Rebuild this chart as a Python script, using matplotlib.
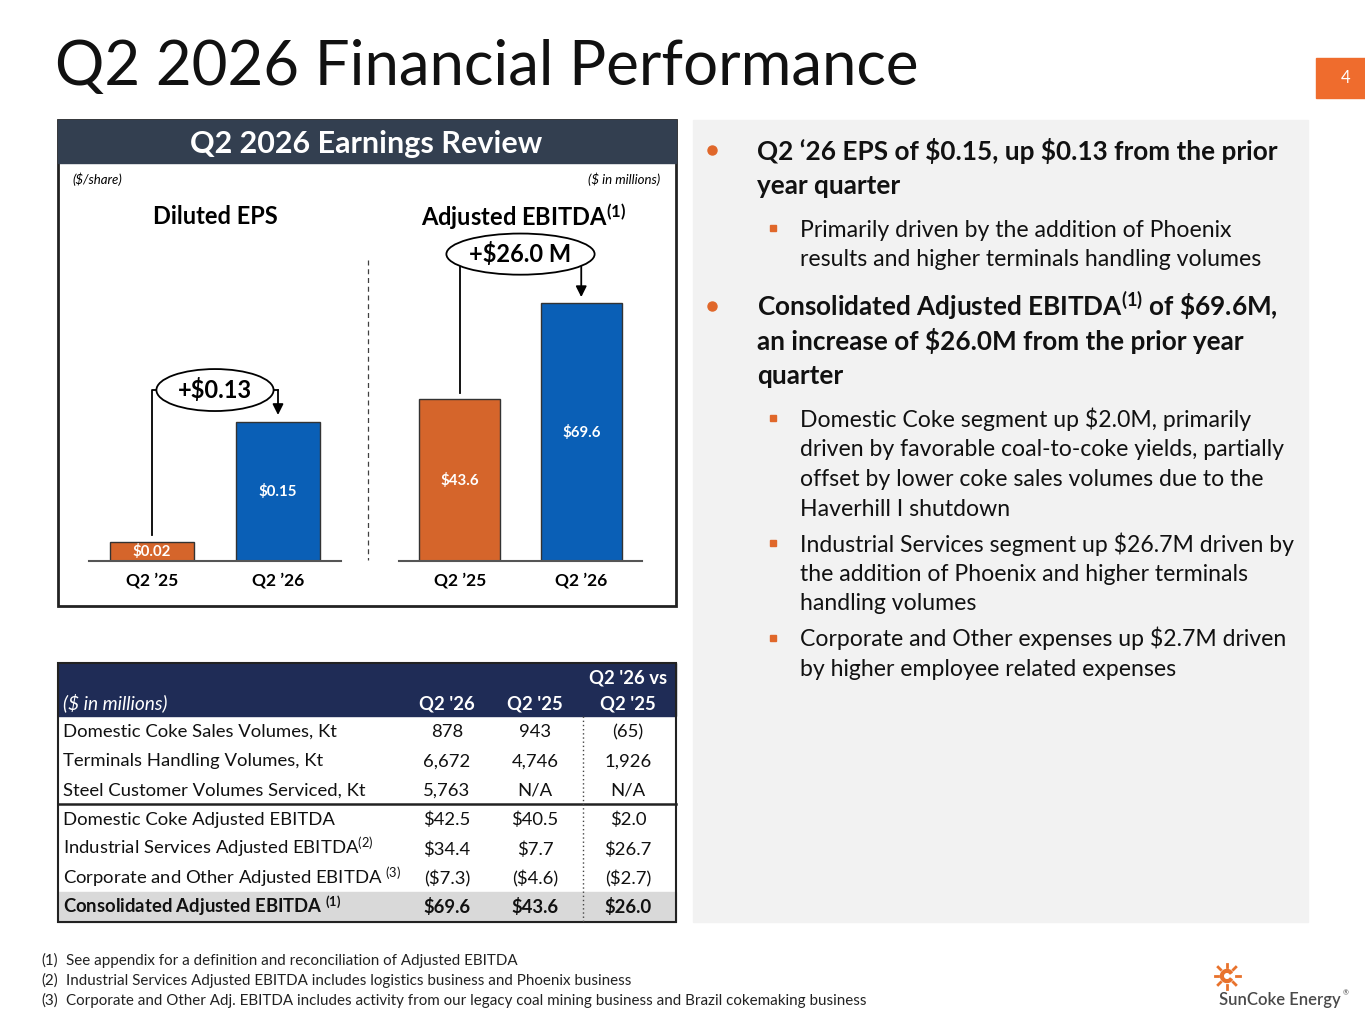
import matplotlib.pyplot as plt
from matplotlib.patches import Rectangle, Ellipse, Wedge
import numpy as np

plt.rcParams['font.family'] = ['Lato', 'DejaVu Sans']
plt.rcParams['mathtext.fontset'] = 'custom'
plt.rcParams['mathtext.rm'] = 'Lato'
plt.rcParams['mathtext.bf'] = 'Lato:bold'
plt.rcParams['mathtext.it'] = 'Lato:italic'

# Chart data
periods = ['Q2 ’25', 'Q2 ’26']
eps = [0.02, 0.15]
ebitda = [43.6, 69.6]

# Table data
table_header = ["Q2 '26", "Q2 '25"]
row_labels = ['Domestic Coke Sales Volumes, Kt',
              'Terminals Handling Volumes, Kt',
              'Steel Customer Volumes Serviced, Kt',
              'Domestic Coke Adjusted EBITDA',
              'Industrial Services Adjusted EBITDA$^{(2)}$',
              'Corporate and Other Adjusted EBITDA $^{(3)}$',
              'Consolidated Adjusted EBITDA $^{\\mathbf{(1)}}$']
q2_26 = ['878', '6,672', '5,763', '$42.5', '$34.4', '($7.3)', '$69.6']
q2_25 = ['943', '4,746', 'N/A', '$40.5', '$7.7', '($4.6)', '$43.6']
change = ['(65)', '1,926', 'N/A', '$2.0', '$26.7', '($2.7)', '$26.0']

# Commentary
bullet1 = ['Q2 ‘26 EPS of \\$0.15, up \\$0.13 from the prior', 'year quarter']
bullet1_subs = [['Primarily driven by the addition of Phoenix',
                 'results and higher terminals handling volumes']]
bullet2 = ['Consolidated Adjusted EBITDA$^{\\mathbf{(1)}}$ of \\$69.6M,',
           'an increase of \\$26.0M from the prior year', 'quarter']
bullet2_subs = [['Domestic Coke segment up \\$2.0M, primarily',
                 'driven by favorable coal-to-coke yields, partially',
                 'offset by lower coke sales volumes due to the',
                 'Haverhill I shutdown'],
                ['Industrial Services segment up \\$26.7M driven by',
                 'the addition of Phoenix and higher terminals',
                 'handling volumes'],
                ['Corporate and Other expenses up \\$2.7M driven',
                 'by higher employee related expenses']]

footnotes = ['See appendix for a definition and reconciliation of Adjusted EBITDA',
             'Industrial Services Adjusted EBITDA includes logistics business and Phoenix business',
             'Corporate and Other Adj. EBITDA includes activity from our legacy coal mining business and Brazil cokemaking business']

orange = '#D5652B'
blue = '#0A5FB6'
accent = '#E0672A'
slate = '#333F50'
navy = '#1F2C56'

W, H = 1365, 1024
fig = plt.figure(figsize=(W / 100, H / 100), dpi=100)
bg = fig.add_axes([0, 0, 1, 1])
bg.set_xlim(0, W)
bg.set_ylim(H, 0)
bg.axis('off')

# title and page number
bg.text(55, 85, 'Q2 2026 Financial Performance', fontsize=44.5, color='#111111', va='baseline')
bg.add_patch(Rectangle((1316, 58), 49, 40, color='#EF6C2D'))
bg.text(1346, 78, '4', color='white', fontsize=12, ha='center', va='center')

# left chart panel
bg.add_patch(Rectangle((58, 120), 618, 486, fc='white', ec='#222222', lw=2))
bg.add_patch(Rectangle((58, 120), 618, 43, color=slate))
bg.text(366, 153, 'Q2 2026 Earnings Review', color='white', fontsize=22, weight='bold',
        ha='center', va='baseline')
bg.text(72, 184, '($/share)', style='italic', fontsize=9.5, va='baseline')
bg.text(660, 184, '($ in millions)', style='italic', fontsize=9.5, ha='right', va='baseline')
bg.text(215, 224, 'Diluted EPS', fontsize=17, weight='bold', ha='center', va='baseline')
bg.text(524, 226, 'Adjusted EBITDA$^{\\mathbf{(1)}}$', fontsize=17, weight='bold',
        ha='center', va='baseline')
bg.plot([368, 368], [260, 560], ls=(0, (4, 3)), color='#404040', lw=0.9)


def bar_panel(left, right, values, ymax, fmt, lift, gap, ell_w, ell_h, change_text):
    ax = fig.add_axes([left / W, 1 - 561 / H, (right - left) / W, 361 / H])
    ax.bar(range(2), values, width=0.67, color=[orange, blue], edgecolor='#333333', lw=1)
    ax.set_xlim(-0.5, 1.5)
    ax.set_ylim(0, ymax)
    for s in ['left', 'top', 'right']:
        ax.spines[s].set_visible(False)
    ax.spines['bottom'].set_color('#555555')
    ax.spines['bottom'].set_linewidth(1.5)
    ax.set_yticks([])
    ax.set_xticks(range(2), periods)
    ax.tick_params(length=0, pad=8)
    for lab in ax.get_xticklabels():
        lab.set_fontweight('bold')
        lab.set_fontsize(12.5)
    ax.patch.set_alpha(0)
    for i, v in enumerate(values):
        ax.text(i, v / 2, fmt.format(v), color='white', weight='bold', fontsize=10.8,
                ha='center', va='center')
    # change bracket
    ye = values[1] + lift
    ax.plot([0, 0, 0.5], [values[0] + gap, ye, ye], color='black', lw=1.3, clip_on=False)
    ax.annotate('', xy=(1, values[1] + gap), xytext=(1, ye),
                arrowprops=dict(arrowstyle='-|>', color='black', lw=1.3, mutation_scale=16,
                                shrinkA=0, shrinkB=0))
    ax.plot([0.5, 1], [ye, ye], color='black', lw=1.3, clip_on=False)
    ax.add_patch(Ellipse((0.5, ye), ell_w, ell_h, fc='white', ec='black', lw=1.3,
                         zorder=5, clip_on=False))
    ax.text(0.5, ye, change_text, fontsize=17, weight='bold', ha='center', va='center',
            zorder=6)
    return ax


bar_panel(89, 341, eps, 0.3896, '${:.2f}', 0.0345, 0.0076, 0.93, 0.0453,
          '+${:.2f}'.format(eps[1] - eps[0]))
bar_panel(399, 642, ebitda, 97.4, '${:.1f}', 13.2, 1.6, 1.22, 11.1,
          '+${:.1f} M'.format(ebitda[1] - ebitda[0]))

# table
tx0, tx1 = 58, 676
row_top, row_h = 716, 29.4
col_x = [447, 535, 628]
fs = 13.3
bg.add_patch(Rectangle((tx0, 663), tx1 - tx0, row_top - 663, color=navy))
bg.add_patch(Rectangle((tx0, row_top + 6 * row_h), tx1 - tx0, row_h, color='#D9D9D9'))
bg.add_patch(Rectangle((tx0, 663), tx1 - tx0, row_top + 7 * row_h - 663, fc='none',
                       ec='#222222', lw=1.5))
bg.plot([tx0, tx1], [row_top + 3 * row_h] * 2, color='#222222', lw=1.8)
bg.plot([583, 583], [row_top, row_top + 7 * row_h], color='#444444', ls=(0, (1, 2)), lw=1)
bg.text(63, 709, '($ in millions)', color='white', style='italic', fontsize=13.8, va='baseline')
for x, h in zip(col_x, table_header):
    bg.text(x, 709, h, color='white', weight='bold', fontsize=fs, ha='center', va='baseline')
bg.text(col_x[2], 684, "Q2 '26 vs", color='white', weight='bold', fontsize=fs,
        ha='center', va='baseline')
bg.text(col_x[2], 709, "Q2 '25", color='white', weight='bold', fontsize=fs,
        ha='center', va='baseline')
for i, lab in enumerate(row_labels):
    yb = row_top + i * row_h + 21
    w = 'bold' if i == len(row_labels) - 1 else 'normal'
    bg.text(63, yb, lab, fontsize=fs, weight=w, va='baseline', color='#111111')
    for x, col in zip(col_x, [q2_26, q2_25, change]):
        bg.text(x, yb, col[i], fontsize=fs, weight=w, ha='center', va='baseline',
                color='#111111')

# commentary panel
bg.add_patch(Rectangle((693, 120), 615, 802, color='#F2F2F2'))


def bullet(y, lines, subs):
    bg.plot(712, y - 10, 'o', color=accent, ms=6.5)
    for j, line in enumerate(lines):
        bg.text(757, y + j * 34, line, fontsize=18.8, weight='bold', va='baseline',
                color='#111111')
    y = y + (len(lines) - 1) * 34 + 43
    for sub in subs:
        bg.plot(773, y - 9, 's', color=accent, ms=5)
        for j, line in enumerate(sub):
            bg.text(800, y + j * 29.5, line, fontsize=16.6, va='baseline', color='#111111')
        y = y + (len(sub) - 1) * 29.5 + 36
    return y


bullet(160, bullet1, bullet1_subs)
bullet(316, bullet2, bullet2_subs)

# footnotes
for i, note in enumerate(footnotes):
    bg.text(41, 965 + i * 20, '({})'.format(i + 1), fontsize=10.9, va='baseline', color='#222222')
    bg.text(66, 965 + i * 20, note, fontsize=10.9, va='baseline', color='#222222')

# logo
cx, cy = 1227, 976
bg.add_patch(Wedge((cx, cy), 6.5, 35, 325, width=2.8, color='#E8722C'))
for a in np.arange(0, 360, 45):
    r = np.radians(a)
    bg.plot([cx + 9 * np.cos(r), cx + 12.5 * np.cos(r)],
            [cy + 9 * np.sin(r), cy + 12.5 * np.sin(r)], color='#E8722C', lw=2)
bg.text(1219, 1005, 'SunCoke Energy', fontsize=12, weight='semibold', color='#4A4A4A',
        va='baseline')
bg.text(1343, 995, '®', fontsize=5, color='#4A4A4A', va='baseline')

fig.savefig('out.png', dpi=100)
